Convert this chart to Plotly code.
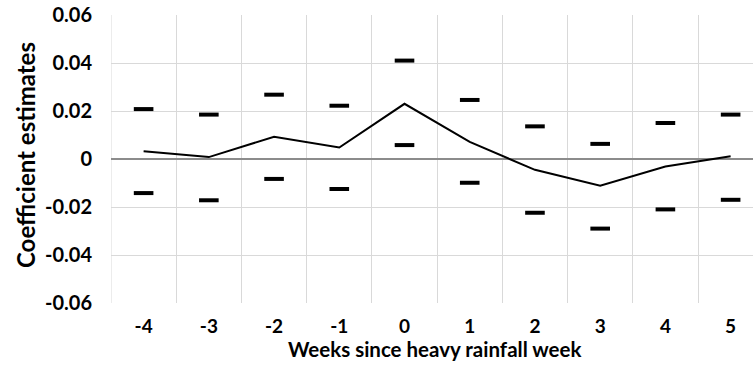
import plotly.graph_objects as go

# Event-study coefficients with confidence bounds
weeks = [-4, -3, -2, -1, 0, 1, 2, 3, 4, 5]
estimate = [0.0032, 0.0008, 0.0093, 0.0048, 0.0230, 0.0071, -0.0045, -0.0111, -0.0031, 0.0011]
upper = [0.0208, 0.0185, 0.0268, 0.0222, 0.0410, 0.0246, 0.0136, 0.0063, 0.0150, 0.0185]
lower = [-0.0142, -0.0172, -0.0083, -0.0125, 0.0058, -0.0099, -0.0224, -0.0290, -0.0210, -0.0170]

y_ticks = [-0.06, -0.04, -0.02, 0, 0.02, 0.04, 0.06]
y_labels = ["-0.06", "-0.04", "-0.02", "0", "0.02", "0.04", "0.06"]

FONT = "Lato"
GRID = "#d9d9d9"

fig = go.Figure()
fig.add_trace(go.Scatter(x=weeks, y=estimate, mode="lines",
                         line=dict(color="black", width=2), showlegend=False))
for bound in (upper, lower):
    fig.add_trace(go.Scatter(x=weeks, y=bound, mode="markers",
                             marker=dict(symbol="line-ew", size=14,
                                         line=dict(color="black", width=4)),
                             showlegend=False))

# left border of the first category band
fig.add_shape(type="line", xref="x", yref="paper", x0=-4.5, x1=-4.5, y0=0, y1=1,
              line=dict(color=GRID, width=1), layer="below")

fig.update_layout(
    width=753, height=366,
    margin=dict(l=111, r=0, t=15, b=63),
    plot_bgcolor="white", paper_bgcolor="white",
    font=dict(family=FONT, color="black", size=19),
    xaxis=dict(range=[-4.5, 5.343], tickvals=weeks, ticktext=[str(w) for w in weeks],
               showgrid=False, zeroline=False, ticks="", ticklen=0,
               tickfont=dict(family=FONT, size=19, weight="bold"), ticklabelstandoff=10,
               minor=dict(tick0=-4.5, dtick=1, showgrid=True, gridcolor=GRID, gridwidth=1)),
    yaxis=dict(range=[-0.06, 0.06], tickvals=y_ticks, ticktext=y_labels,
               showgrid=True, gridcolor=GRID, gridwidth=1,
               zeroline=True, zerolinecolor="#8c8c8c", zerolinewidth=2,
               tickfont=dict(family=FONT, size=20, weight="bold"), ticks="", ticklabelstandoff=18),
    annotations=[
        dict(text="<b>Weeks since heavy rainfall week</b>", xref="paper", yref="paper",
             x=(435 - 111) / 642, y=-(349 - 303) / 288, xanchor="center", yanchor="middle",
             showarrow=False, font=dict(family=FONT, size=20.5)),
        dict(text="<b>Coefficient estimates</b>", xref="paper", yref="paper",
             x=(25 - 111) / 642, y=(303 - 155) / 288, xanchor="center", yanchor="middle",
             textangle=-90, showarrow=False, font=dict(family=FONT, size=24)),
    ],
)

fig.write_html("out.html")
